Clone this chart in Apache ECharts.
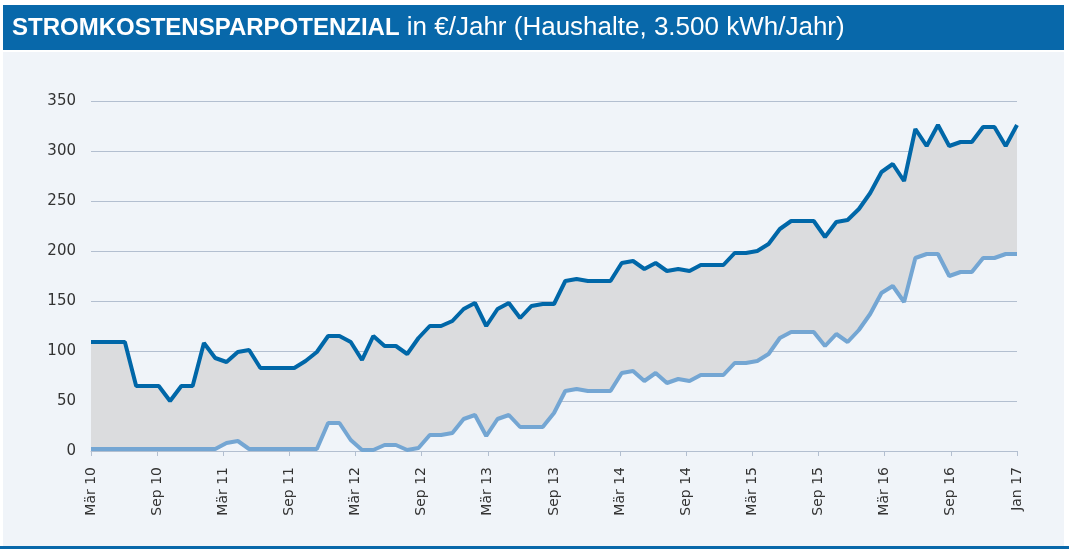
<!DOCTYPE html>
<html>
<head>
<meta charset="utf-8">
<script src="https://cdn.jsdelivr.net/npm/echarts@6/dist/echarts.min.js"></script>
<style>
  html, body { margin: 0; padding: 0; background: #ffffff; }
  #chart { width: 1069px; height: 549px; }
</style>
</head>
<body>
<div id="chart"></div>
<script>
// monthly points, Mär 10 .. Jan 17
var monthNames = ['Jan', 'Feb', 'Mär', 'Apr', 'Mai', 'Jun', 'Jul', 'Aug', 'Sep', 'Okt', 'Nov', 'Dez'];
var categories = [];
for (var k = 2; k < 2 + 83; k++) {
    categories.push(monthNames[k % 12] + ' ' + (10 + Math.floor(k / 12)));
}

// labels as printed under the axis (evenly spaced)
var tickLabels = ['Mär 10', 'Sep 10', 'Mär 11', 'Sep 11', 'Mär 12', 'Sep 12', 'Mär 13', 'Sep 13',
    'Mär 14', 'Sep 14', 'Mär 15', 'Sep 15', 'Mär 16', 'Sep 16', 'Jan 17'];

// upper line (dark blue)
var upperValues = [
    109, 109, 109, 109, 65, 65, 65, 50, 65, 65,
    108, 93, 89, 99, 101, 83, 83, 83, 83, 90,
    99, 115, 115, 109, 91, 115, 105, 105, 97, 113,
    125, 125, 130, 142, 148, 125, 142, 148, 133, 145,
    147, 147, 170, 172, 170, 170, 170, 188, 190, 182,
    188, 180, 182, 180, 186, 186, 186, 198, 198, 200,
    207, 222, 230, 230, 230, 214, 229, 231, 242, 258,
    279, 287, 270, 322, 305, 326, 305, 309, 309, 324,
    324, 305, 326
];

// lower line (light blue)
var lowerValues = [
    2, 2, 2, 2, 2, 2, 2, 2, 2, 2,
    2, 2, 8, 10, 2, 2, 2, 2, 2, 2,
    2, 28, 28, 11, 1, 1, 6, 6, 1, 3,
    16, 16, 18, 32, 36, 15, 32, 36, 24, 24,
    24, 38, 60, 62, 60, 60, 60, 78, 80, 70,
    78, 68, 72, 70, 76, 76, 76, 88, 88, 90,
    97, 113, 119, 119, 119, 105, 117, 109, 121, 137,
    158, 165, 149, 193, 197, 197, 175, 179, 179, 193,
    193, 197, 197
];

var bandValues = upperValues.map(function(v, i) { return v - lowerValues[i]; });

var font = 'DejaVu Sans, Liberation Sans, sans-serif';
var titleFont = 'Liberation Sans, Arial, sans-serif';
var gridColor = '#b3bfd0';

var chart = echarts.init(document.getElementById('chart'));

chart.setOption({
    animation: false,
    textStyle: { fontFamily: font },
    graphic: [
        { type: 'rect', z: -10, shape: { x: 3, y: 5, width: 1061, height: 45 }, style: { fill: '#0868aa' } },
        { type: 'rect', z: -10, shape: { x: 3, y: 52, width: 1061, height: 494 }, style: { fill: '#f0f4f9' } },
        { type: 'rect', z: -10, shape: { x: 0, y: 546, width: 1069, height: 3 }, style: { fill: '#0868aa' } }
    ],
    title: {
        left: 12,
        top: 15,
        padding: 0,
        z: 10,
        text: '{b|STROMKOSTENSPARPOTENZIAL}{n| in €/Jahr (Haushalte, 3.500 kWh/Jahr)}',
        textStyle: {
            rich: {
                b: { fontFamily: titleFont, fontWeight: 'bold', fontSize: 24, color: '#ffffff' },
                n: { fontFamily: titleFont, fontWeight: 'normal', fontSize: 26, color: '#ffffff' }
            }
        }
    },
    grid: { left: 91, right: 52, top: 101, bottom: 98 },
    xAxis: [
        {
            type: 'category',
            data: categories,
            boundaryGap: false,
            show: false
        },
        {
            type: 'category',
            data: tickLabels,
            boundaryGap: false,
            position: 'bottom',
            axisLine: { lineStyle: { color: gridColor, width: 1 } },
            axisTick: { show: true, length: 5, lineStyle: { color: gridColor } },
            axisLabel: { rotate: 90, interval: 0, fontSize: 14, color: '#333333', margin: 16 },
            splitLine: { show: false }
        }
    ],
    yAxis: {
        type: 'value',
        min: 0,
        max: 350,
        interval: 50,
        axisLine: { show: false },
        axisTick: { show: false },
        axisLabel: { fontSize: 15, color: '#333333', margin: 15 },
        splitLine: { lineStyle: { color: gridColor, width: 1 } }
    },
    series: [
        {
            name: 'base',
            type: 'line',
            xAxisIndex: 0,
            stack: 'band',
            data: lowerValues,
            symbol: 'none',
            silent: true,
            lineStyle: { opacity: 0 }
        },
        {
            name: 'band',
            type: 'line',
            xAxisIndex: 0,
            stack: 'band',
            data: bandValues,
            symbol: 'none',
            silent: true,
            lineStyle: { opacity: 0 },
            areaStyle: { color: '#dbdcde', opacity: 1 }
        },
        {
            name: 'upper',
            type: 'line',
            xAxisIndex: 0,
            data: upperValues,
            symbol: 'none',
            lineStyle: { color: '#0067a8', width: 4 },
            z: 5
        },
        {
            name: 'lower',
            type: 'line',
            xAxisIndex: 0,
            data: lowerValues,
            symbol: 'none',
            lineStyle: { color: '#74a6d3', width: 4 },
            z: 4
        }
    ]
});
</script>
</body>
</html>
